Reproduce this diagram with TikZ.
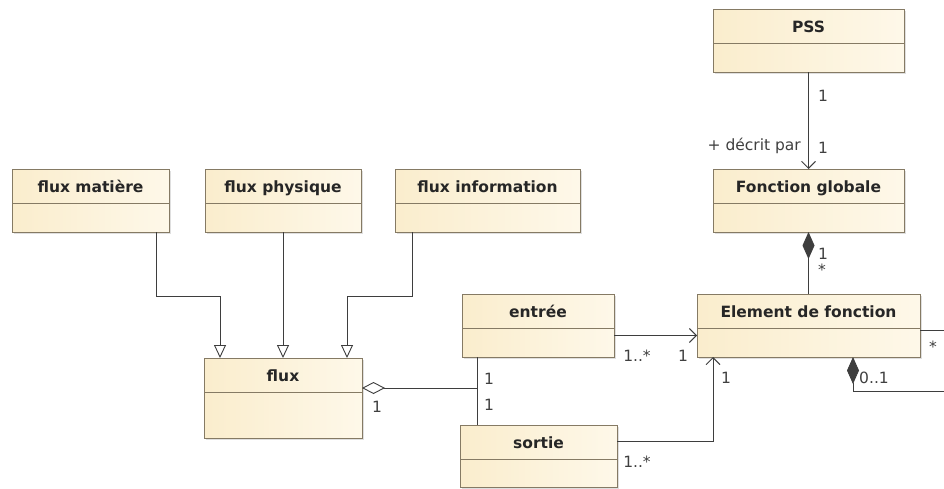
\documentclass[tikz,border=0pt]{standalone}
\usepackage{fontspec}
\setmainfont{DejaVu Sans}
\usepackage{xcolor}
\usepackage{tikz}
\usetikzlibrary{arrows.meta, shadows}

\definecolor{umlBorder}{RGB}{133,122,100}
\definecolor{umlLine}{RGB}{62,62,62}
\definecolor{umlFillL}{RGB}{250,237,205}
\definecolor{umlFillR}{RGB}{254,248,233}

\begin{document}
\begin{tikzpicture}[x=1pt, y=-1pt,
  cls/.style={rectangle, draw=umlBorder, line width=0.9pt, left color=umlFillL, right color=umlFillR, anchor=north west, inner sep=0pt, outer sep=0pt, minimum height=63pt, drop shadow={shadow xshift=1.5pt, shadow yshift=-1.5pt, opacity=0.25}},
  title/.style={font=\fontsize{15.5}{18}\selectfont\bfseries, text=black!85, inner sep=0pt, anchor=base},
  mult/.style={font=\fontsize{15.5}{18}\selectfont, text=black!75, inner sep=0pt},
  sep/.style={draw=umlBorder, line width=0.9pt},
  link/.style={draw=umlLine, line width=0.9pt},
  gen/.style={link, -{Triangle[open, length=13pt, width=12pt, fill=white]}},
  nav/.style={link, -{Straight Barb[length=7pt, width=14pt]}},
  comp/.style={link, {Diamond[length=27pt, width=12pt]}-},
  agg/.style={link, {Diamond[open, length=23pt, width=12pt, fill=white]}-}
]
\useasboundingbox (0,0) rectangle (944,488);
\fill[white] (0,0) rectangle (944,488);
% classes
\node[cls, minimum width=157pt] (matiere) at (12,169) {};
\node[title] (matiereName) at ([yshift=-23pt]matiere.north) {flux matière};
\draw[sep] ([yshift=-34pt]matiere.north west) -- ([yshift=-34pt]matiere.north east);
\node[cls, minimum width=156pt] (physique) at (205,169) {};
\node[title] (physiqueName) at ([yshift=-23pt]physique.north) {flux physique};
\draw[sep] ([yshift=-34pt]physique.north west) -- ([yshift=-34pt]physique.north east);
\node[cls, minimum width=185pt] (information) at (395,169) {};
\node[title] (informationName) at ([yshift=-23pt]information.north) {flux information};
\draw[sep] ([yshift=-34pt]information.north west) -- ([yshift=-34pt]information.north east);
\node[cls, minimum width=158pt, minimum height=80pt] (flux) at (204,358) {};
\node[title] (fluxName) at ([yshift=-23pt]flux.north) {flux};
\draw[sep] ([yshift=-34pt]flux.north west) -- ([yshift=-34pt]flux.north east);
\node[cls, minimum width=152pt] (entree) at (462,294) {};
\node[title] (entreeName) at ([yshift=-23pt]entree.north) {entrée};
\draw[sep] ([yshift=-34pt]entree.north west) -- ([yshift=-34pt]entree.north east);
\node[cls, minimum width=157pt, minimum height=62pt] (sortie) at (460,425) {};
\node[title] (sortieName) at ([yshift=-23pt]sortie.north) {sortie};
\draw[sep] ([yshift=-34pt]sortie.north west) -- ([yshift=-34pt]sortie.north east);
\node[cls, minimum width=191pt] (pss) at (713,9) {};
\node[title] (pssName) at ([yshift=-23pt]pss.north) {PSS};
\draw[sep] ([yshift=-34pt]pss.north west) -- ([yshift=-34pt]pss.north east);
\node[cls, minimum width=191pt] (fglob) at (713,169) {};
\node[title] (fglobName) at ([yshift=-23pt]fglob.north) {Fonction globale};
\draw[sep] ([yshift=-34pt]fglob.north west) -- ([yshift=-34pt]fglob.north east);
\node[cls, minimum width=223pt] (elem) at (697,294) {};
\node[title] (elemName) at ([yshift=-23pt]elem.north) {Element de fonction};
\draw[sep] ([yshift=-34pt]elem.north west) -- ([yshift=-34pt]elem.north east);
% generalisations
\draw[gen] ([xshift=-13pt]matiere.south east) -- ++(0,64) -| ([xshift=16pt]flux.north west);
\draw[gen] (physique.south) -- (flux.north);
\draw[gen] ([xshift=17pt]information.south west) -- ++(0,64) -| ([xshift=-15pt]flux.north east);
% associations
\draw[agg] ([yshift=-30pt]flux.north east) -- ++(115,0);
\draw[link] ([xshift=15pt]entree.south west) -- ([xshift=17pt]sortie.north west);
\draw[nav] ([yshift=-10pt]entree.east) -- ([yshift=-10pt]elem.west);
\draw[nav] ([yshift=-16pt]sortie.north east) -| ([xshift=16pt]elem.south west);
\draw[nav] (pss.south) -- (fglob.north);
\draw[comp] (fglob.south) -- (elem.north);
\coordinate (edgeA) at (944,330);
\coordinate (edgeB) at (944,391);
\draw[link] ([yshift=-36pt]elem.north east) -- (edgeA);
\draw[comp] ([xshift=156pt]elem.south west) |- (edgeB);
% multiplicities and roles
\node[mult] (pssOne) at (823,96) {1};
\node[mult, anchor=east] (roleDecrit) at (801,146) {+ décrit par};
\node[mult] (fglobOne) at (823,148) {1};
\node[mult] (compOne) at (823,254) {1};
\node[mult] (compMany) at (822,270) {*};
\node[mult] (entreeMany) at (637,356) {1..*};
\node[mult] (entreeOne) at (683,356) {1};
\node[mult] (entreeFlux) at (489,379) {1};
\node[mult] (sortieFlux) at (489,405) {1};
\node[mult] (fluxOne) at (377,407) {1};
\node[mult] (sortieMany) at (637,462) {1..*};
\node[mult] (sortieOne) at (726,378) {1};
\node[mult] (selfOpt) at (874,378) {0..1};
\node[mult] (selfMany) at (933,347) {*};
\end{tikzpicture}
\end{document}
